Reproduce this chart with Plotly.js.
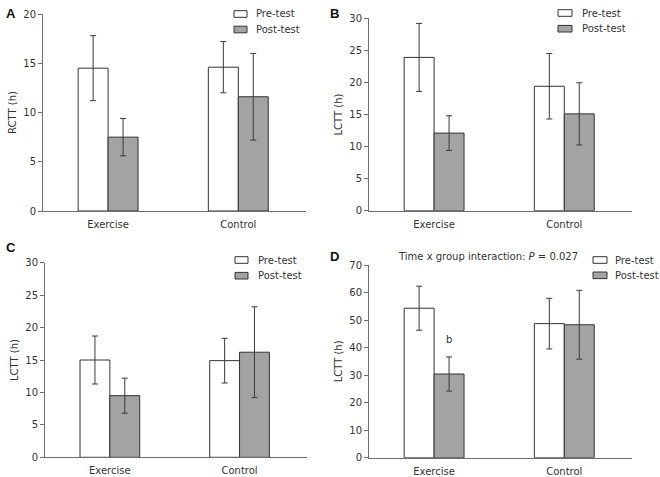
<!DOCTYPE html>
<html><head><meta charset="utf-8">
<script src="https://cdn.plot.ly/plotly-3.0.1.min.js"></script>
<style>html,body{margin:0;padding:0;background:#fff}#chart{width:660px;height:477px}</style>
</head><body><div id="chart"></div>
<script>
var categories = ['Exercise', 'Control'];
var seriesNames = ['Pre-test', 'Post-test'];

var A_pre = [14.5, 14.6];   var A_pre_err = [3.3, 2.6];
var A_post = [7.5, 11.6];   var A_post_err = [1.9, 4.4];
var B_pre = [23.9, 19.4];   var B_pre_err = [5.3, 5.1];
var B_post = [12.1, 15.1];  var B_post_err = [2.7, 4.85];
var C_pre = [15.0, 14.9];   var C_pre_err = [3.7, 3.45];
var C_post = [9.5, 16.2];   var C_post_err = [2.7, 7.0];
var D_pre = [54.3, 48.7];   var D_pre_err = [8.0, 9.2];
var D_post = [30.4, 48.3];  var D_post_err = [6.2, 12.5];

var panelLetters = ['A', 'B', 'C', 'D'];
var yTitles = ['RCTT (h)', 'LCTT (h)', 'LCTT (h)', 'LCTT (h)'];
var yMax = [20, 30, 30, 70];
var yStep = [5, 5, 5, 10];

var FONT = 'DejaVu Sans, Verdana, sans-serif';
var TXT = '#333333';
var AX = '#6e6e6e';
var PRE_FILL = '#ffffff', POST_FILL = '#a3a3a3', EDGE = '#333333';

var panels = [
  {pre: A_pre, preE: A_pre_err, post: A_post, postE: A_post_err},
  {pre: B_pre, preE: B_pre_err, post: B_post, postE: B_post_err},
  {pre: C_pre, preE: C_pre_err, post: C_post, postE: C_post_err},
  {pre: D_pre, preE: D_pre_err, post: D_post, postE: D_post_err}
];

// pixel geometry -> domains
var W = 660, H = 477;
var boxes = [
  {l: 43, r: 306, t: 14, b: 211},
  {l: 369, r: 632, t: 18.3, b: 210.7},
  {l: 45, r: 307, t: 262.7, b: 457.3},
  {l: 369, r: 632, t: 265, b: 457.7}
];
// legend key positions (px): box left, box right, row centres
var legPos = [
  {l: 234, r: 247, y1: 14, y2: 29.5, tx: 254},
  {l: 558, r: 572, y1: 13, y2: 28.7, tx: 580},
  {l: 235, r: 248, y1: 260, y2: 275.7, tx: 256},
  {l: 593, r: 607, y1: 260, y2: 275.3, tx: 613}
];
var letterPos = [{x: 11, y: 13}, {x: 334, y: 13}, {x: 11, y: 248}, {x: 334, y: 256}];

var data = [];
var layout = {
  width: W, height: H,
  margin: {l: 0, r: 0, t: 0, b: 0},
  paper_bgcolor: '#fff', plot_bgcolor: '#fff',
  bargap: 0.54, bargroupgap: 0,
  barmode: 'group',
  font: {family: FONT, size: 10, color: TXT},
  annotations: [], shapes: [],
  showlegend: false
};

function px(x) { return x / W; }
function py(y) { return 1 - y / H; }

panels.forEach(function (p, i) {
  var n = i + 1;
  var xa = 'x' + (n === 1 ? '' : n), ya = 'y' + (n === 1 ? '' : n);
  var errStyle = {type: 'data', visible: true, color: '#3a3a3a', thickness: 1, width: 3};
  data.push({
    type: 'bar', x: categories, y: p.pre, name: seriesNames[0],
    xaxis: xa, yaxis: ya,
    marker: {color: PRE_FILL, line: {color: EDGE, width: 1}},
    error_y: Object.assign({array: p.preE}, errStyle)
  });
  data.push({
    type: 'bar', x: categories, y: p.post, name: seriesNames[1],
    xaxis: xa, yaxis: ya,
    marker: {color: POST_FILL, line: {color: EDGE, width: 1}},
    error_y: Object.assign({array: p.postE}, errStyle)
  });
  var bx = boxes[i];
  var ticks = [];
  for (var v = 0; v <= yMax[i]; v += yStep[i]) ticks.push(v);
  layout['xaxis' + (n === 1 ? '' : n)] = {
    domain: [px(bx.l), px(bx.r)], anchor: ya, range: [-0.5, 1.52],
    showline: true, linecolor: AX, linewidth: 1, ticks: '',
    ticklabelstandoff: 4,
    tickfont: {family: FONT, size: 10, color: TXT}, showgrid: false, zeroline: false,
    fixedrange: true
  };
  layout['yaxis' + (n === 1 ? '' : n)] = {
    domain: [py(bx.b), py(bx.t)], anchor: xa, range: [0, yMax[i]],
    tickvals: ticks, showline: true, linecolor: AX, linewidth: 1,
    ticks: 'outside', ticklen: 4, tickcolor: AX,
    tickfont: {family: FONT, size: 10, color: TXT}, showgrid: false, zeroline: false,
    title: {text: yTitles[i], font: {family: FONT, size: 10, color: TXT}, standoff: 4},
    fixedrange: true
  };
  // legend keys
  var L = legPos[i];
  [[L.y1, PRE_FILL, seriesNames[0]], [L.y2, POST_FILL, seriesNames[1]]].forEach(function (row) {
    layout.shapes.push({
      type: 'rect', xref: 'paper', yref: 'paper',
      x0: px(L.l), x1: px(L.r), y0: py(row[0] + 3.3), y1: py(row[0] - 3.3),
      fillcolor: row[1], line: {color: EDGE, width: 1}
    });
    layout.annotations.push({
      text: row[2], xref: 'paper', yref: 'paper', x: px(L.tx), y: py(row[0]),
      xanchor: 'left', yanchor: 'middle', showarrow: false,
      font: {family: FONT, size: 10, color: TXT}
    });
  });
  layout.annotations.push({
    text: '<b>' + panelLetters[i] + '</b>', xref: 'paper', yref: 'paper',
    x: px(letterPos[i].x), y: py(letterPos[i].y),
    xanchor: 'center', yanchor: 'middle', showarrow: false,
    font: {family: 'Liberation Sans, Arial, sans-serif', size: 13, color: '#111'}
  });
});

layout.annotations.push({
  text: 'b', xref: 'x4', yref: 'y4', x: categories[0], y: 42.8, xshift: 15,
  showarrow: false, font: {family: FONT, size: 10, color: TXT}
});
layout.annotations.push({
  text: 'Time x group interaction: <i>P</i> = 0.027', xref: 'paper', yref: 'paper',
  x: px(488), y: py(256), xanchor: 'center', yanchor: 'middle', showarrow: false,
  font: {family: FONT, size: 10, color: TXT}
});

Plotly.newPlot('chart', data, layout, {displayModeBar: false, staticPlot: true});
</script>
</body></html>
